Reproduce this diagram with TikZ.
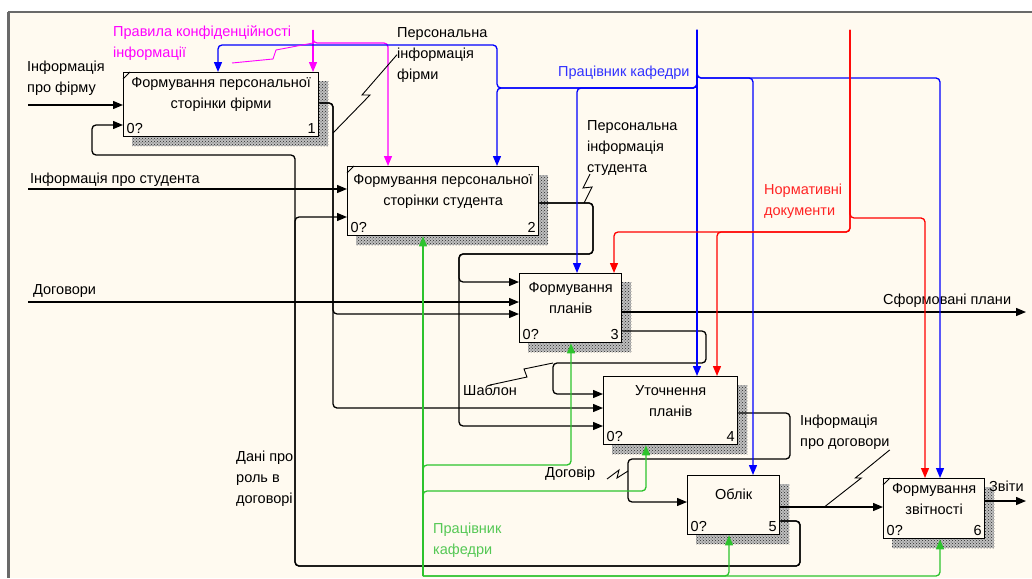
\documentclass[tikz,border=0pt]{standalone}
\usepackage{fontspec}
\setmainfont{Liberation Sans}
\usetikzlibrary{arrows.meta,positioning,calc,patterns,backgrounds}
\definecolor{paper}{RGB}{255,250,240}
\definecolor{rimgray}{RGB}{105,105,105}
\definecolor{rulepink}{RGB}{255,0,255}
\definecolor{staffblue}{RGB}{0,0,255}
\definecolor{stafftext}{RGB}{50,50,255}
\definecolor{normred}{RGB}{255,0,0}
\definecolor{normtext}{RGB}{255,35,35}
\definecolor{mechgreen}{RGB}{45,195,45}
\definecolor{mechtext}{RGB}{85,200,85}

\begin{document}
\begin{tikzpicture}[x=1pt, y=-1pt,
    every node/.style={font=\fontsize{14.5}{21}\selectfont, inner sep=0pt},
    func/.style={draw, line width=1.3pt, fill=paper, anchor=north west},
    ttl/.style={align=center},
    tag/.style={inner sep=3.5pt},
    lbl/.style={align=left, anchor=north west},
    flow/.style={line width=1.3pt, rounded corners=4pt},
    arr/.style={flow, -{Triangle[length=10pt,width=8pt]}},
    squig/.style={line width=0.9pt},
    tick/.style={line width=0.8pt},
    hatch/.style={fill=black!25, postaction={pattern=crosshatch dots, pattern color=black!85}}]
    \useasboundingbox (0,0) rectangle (1032,578);

    % function boxes
    \node[func, minimum width=195pt, minimum height=64pt] (b1) at (123,72) {};
    \node[ttl] (b1t) at ([yshift=10pt]b1.center) {Формування персональної\\сторінки фірми};
    \node[tag, anchor=south west] (b1z) at (b1.south west) {0?};
    \node[tag, anchor=south east] (b1n) at (b1.south east) {1};

    \node[func, minimum width=191pt, minimum height=69pt] (b2) at (347,166) {};
    \node[ttl] (b2t) at ([yshift=10pt]b2.center) {Формування персональної\\сторінки студента};
    \node[tag, anchor=south west] (b2z) at (b2.south west) {0?};
    \node[tag, anchor=south east] (b2n) at (b2.south east) {2};

    \node[func, minimum width=102pt, minimum height=69pt] (b3) at (519,273) {};
    \node[ttl] (b3t) at ([yshift=10pt]b3.center) {Формування\\планів};
    \node[tag, anchor=south west] (b3z) at (b3.south west) {0?};
    \node[tag, anchor=south east] (b3n) at (b3.south east) {3};

    \node[func, minimum width=134pt, minimum height=68pt] (b4) at (603,376) {};
    \node[ttl] (b4t) at ([yshift=10pt]b4.center) {Уточнення\\планів};
    \node[tag, anchor=south west] (b4z) at (b4.south west) {0?};
    \node[tag, anchor=south east] (b4n) at (b4.south east) {4};

    \node[func, minimum width=92pt, minimum height=59pt] (b5) at (687,475) {};
    \node[ttl] (b5t) at ([yshift=11pt]b5.center) {Облік};
    \node[tag, anchor=south west] (b5z) at (b5.south west) {0?};
    \node[tag, anchor=south east] (b5n) at (b5.south east) {5};

    \node[func, minimum width=101pt, minimum height=60pt] (b6) at (883,478) {};
    \node[ttl] (b6t) at ([yshift=10pt]b6.center) {Формування\\звітності};
    \node[tag, anchor=south west] (b6z) at (b6.south west) {0?};
    \node[tag, anchor=south east] (b6n) at (b6.south east) {6};

    \draw[tick] ($(b1.north west)+(0,7)$) -- ++(7,-7);
    \draw[tick] ($(b2.north west)+(0,7)$) -- ++(7,-7);
    \draw[tick] ($(b6.north west)+(0,7)$) -- ++(7,-7);

    % ports
    \path (b1.north west) ++(0,33) coordinate (b1i1) ++(0,20) coordinate (b1i2);
    \path (b1.north west) ++(95,0) coordinate (b1c1) ++(95,0) coordinate (b1c2);
    \path (b1.north east) ++(0,31) coordinate (b1o);
    \path (b2.north west) ++(0,23) coordinate (b2i1) ++(0,28) coordinate (b2i2);
    \path (b2.north west) ++(41,0) coordinate (b2c1) ++(109,0) coordinate (b2c2);
    \path (b2.south west) ++(76,0) coordinate (b2m);
    \path (b2.north east) ++(0,37) coordinate (b2o);
    \path (b3.north west) ++(0,9) coordinate (b3i1) ++(0,20) coordinate (b3i2) ++(0,12) coordinate (b3i3);
    \path (b3.north west) ++(58,0) coordinate (b3c1) ++(37,0) coordinate (b3c2);
    \path (b3.south west) ++(52,0) coordinate (b3m);
    \path (b3.north east) ++(0,39) coordinate (b3o1) ++(0,19) coordinate (b3o2);
    \path (b4.north west) ++(0,18) coordinate (b4i1) ++(0,14) coordinate (b4i2) ++(0,18) coordinate (b4i3);
    \path (b4.north west) ++(94,0) coordinate (b4c1) ++(20,0) coordinate (b4c2);
    \path (b4.south west) ++(43,0) coordinate (b4m);
    \path (b4.north east) ++(0,37) coordinate (b4o);
    \path (b5.north west) ++(0,27) coordinate (b5i);
    \path (b5.north west) ++(66,0) coordinate (b5c);
    \path (b5.south west) ++(42,0) coordinate (b5m);
    \path (b5.north east) ++(0,32) coordinate (b5o1) ++(0,14) coordinate (b5o2);
    \path (b6.north west) ++(0,29) coordinate (b6i);
    \path (b6.north west) ++(42,0) coordinate (b6c1) ++(15,0) coordinate (b6c2);
    \path (b6.south west) ++(57,0) coordinate (b6m);
    \path (b6.north east) ++(0,23) coordinate (b6o);

    % free ends and bends
    \coordinate (srcFirm) at (28,105);
    \coordinate (srcStud) at (28,189);
    \coordinate (srcDog) at (28,302);
    \coordinate (srcRule) at (313,30);
    \coordinate (srcStaff) at (697,30);
    \coordinate (srcNorm) at (850,30);
    \coordinate (srcMech) at (423,576);
    \coordinate (outPlans) at (1026,312);
    \coordinate (outRep) at (1026,501);
    \coordinate (kF) at (333,0);
    \coordinate (kS1) at (593,254);
    \coordinate (kS2) at (459,254);
    \coordinate (kT1) at (706,363);
    \coordinate (kT2) at (553,363);
    \coordinate (kD1) at (790,459);
    \coordinate (kD2) at (628,459);
    \coordinate (kR1) at (800,566);
    \coordinate (kR2) at (295,566);
    \coordinate (kR3) at (295,155);
    \coordinate (kR4) at (92,155);
    \coordinate (kM) at (313,43);
    \coordinate (kBr) at (697,78);
    \coordinate (kBl) at (697,88);
    \coordinate (kBu) at (497,45);
    \coordinate (kN) at (850,232);
    \coordinate (kNr) at (850,218);
    \coordinate (kG3) at (423,465);
    \coordinate (kG4) at (423,491);

    % labels
    \node[lbl] (lFirm) at (27,61) {Інформація\\про фірму};
    \node[lbl] (lStud) at (30,173) {Інформація про студента};
    \node[lbl] (lDog) at (33,284) {Договори};
    \node[lbl, text=rulepink] (lRule) at (113,26) {Правила конфіденційності\\інформації};
    \node[lbl] (lPF) at (397,27) {Персональна\\інформація\\фірми};
    \node[lbl, text=stafftext] (lStaff) at (558,66) {Працівник кафедри};
    \node[lbl] (lPS) at (587,120) {Персональна\\інформація\\студента};
    \node[lbl, text=normtext] (lNorm) at (764,184) {Нормативні\\документи};
    \node[lbl] (lPlans) at (883,294) {Сформовані плани};
    \node[lbl] (lTpl) at (463,385) {Шаблон};
    \node[lbl] (lRole) at (236,451) {Дані про\\роль в\\договорі};
    \node[lbl] (lDgv) at (545,467) {Договір};
    \node[lbl] (lInfD) at (800,415) {Інформація\\про договори};
    \node[lbl, text=mechtext] (lMech) at (433,523) {Працівник\\кафедри};
    \node[lbl] (lRep) at (989,481) {Звіти};

    % inputs and outputs
    \draw[arr] (srcFirm) -- (b1i1);
    \draw[arr] (srcStud) -- (b2i1);
    \draw[arr] (srcDog) -- (b3i2);
    \draw[arr] (b3o1) -- (outPlans);
    \draw[arr] (b5o1) -- (b6i);
    \draw[arr] (b6o) -- (outRep);
    \draw[arr] (b1o) -| (kF |- b3i3) -- (b3i3);
    \draw[arr] (b1o) -| (kF |- b4i2) -- (b4i2);
    \draw[arr] (b2o) -| (kS1) -- (kS2) |- (b3i1);
    \draw[arr] (b2o) -| (kS1) -- (kS2) |- (b4i3);
    \draw[arr] (b3o2) -| (kT1) -- (kT2) |- (b4i1);
    \draw[arr] (b4o) -| (kD1) -- (kD2) |- (b5i);
    \draw[arr] (b5o2) -| (kR1) -- (kR2) -- (kR3) -- (kR4) |- (b1i2);
    \draw[arr] (b5o2) -| (kR1) -- (kR2) |- (b2i2);

    % controls
    \draw[arr, rulepink] (srcRule) -- (b1c2);
    \draw[arr, rulepink] (srcRule) -- (kM) -| (b2c1);
    \draw[arr, staffblue] (srcStaff) -- (b4c1);
    \draw[arr, staffblue] (srcStaff) -- (kBr) -| (b5c);
    \draw[arr, staffblue] (srcStaff) -- (kBr) -| (b6c2);
    \draw[arr, staffblue] (srcStaff) -- (kBl) -| (b3c1);
    \draw[arr, staffblue] (srcStaff) -- (kBl) -| (b2c2);
    \draw[arr, staffblue] (srcStaff) -- (kBl) -| (kBu) -| (b1c1);
    \draw[arr, normred] (srcNorm) -- (kN) -| (b3c2);
    \draw[arr, normred] (srcNorm) -- (kN) -| (b4c2);
    \draw[arr, normred] (srcNorm) -- (kNr) -| (b6c1);

    % mechanisms
    \draw[arr, mechgreen] (srcMech) -- (b2m);
    \draw[arr, mechgreen] (srcMech) -- (kG3) -| (b3m);
    \draw[arr, mechgreen] (srcMech) -- (kG4) -| (b4m);
    \draw[arr, mechgreen] (srcMech) -| (b5m);
    \draw[arr, mechgreen] (srcMech) -| (b6m);

    % squiggles
    \draw[squig, rulepink] (kM) -- ++(-37,7) -- ++(-3,9) -- ++(-41,4);
    \draw[squig] (kF |- 0,133) -- ++(37,-38) -- ++(-8,0) -- (lPF.west);
    \draw[squig] (kS1 |- b2o) ++(-9,0) -- ++(8,-16) -- ++(-9,1) -- ++(7,-14);
    \draw[squig] (kT2) -- ++(-29,6) -- ++(3,8) -- (lTpl.north);
    \draw[squig] (kD2 |- 0,471) -- ++(-11,7) -- ++(2,-8) -- ++(-12,9);
    \draw[squig] (b5o1) ++(44,0) -- ++(37,-29) -- ++(-6,0) -- (lInfD.south east);

    % canvas, frame and shadows
    \begin{scope}[on background layer]
        \fill[paper] (8,12) rectangle (1032,578);
        \draw[rimgray, line width=3pt] (8,12) -- (8,578);
        \draw[rimgray, line width=2pt] (8,12) -- (1032,12);
        \path[hatch] ($(b1.south west)+(9,9)$) rectangle ($(b1.north east)+(9,9)$);
        \path[hatch] ($(b2.south west)+(9,9)$) rectangle ($(b2.north east)+(9,9)$);
        \path[hatch] ($(b3.south west)+(9,9)$) rectangle ($(b3.north east)+(9,9)$);
        \path[hatch] ($(b4.south west)+(9,9)$) rectangle ($(b4.north east)+(9,9)$);
        \path[hatch] ($(b5.south west)+(9,9)$) rectangle ($(b5.north east)+(9,9)$);
        \path[hatch] ($(b6.south west)+(9,9)$) rectangle ($(b6.north east)+(9,9)$);
    \end{scope}
\end{tikzpicture}
\end{document}
